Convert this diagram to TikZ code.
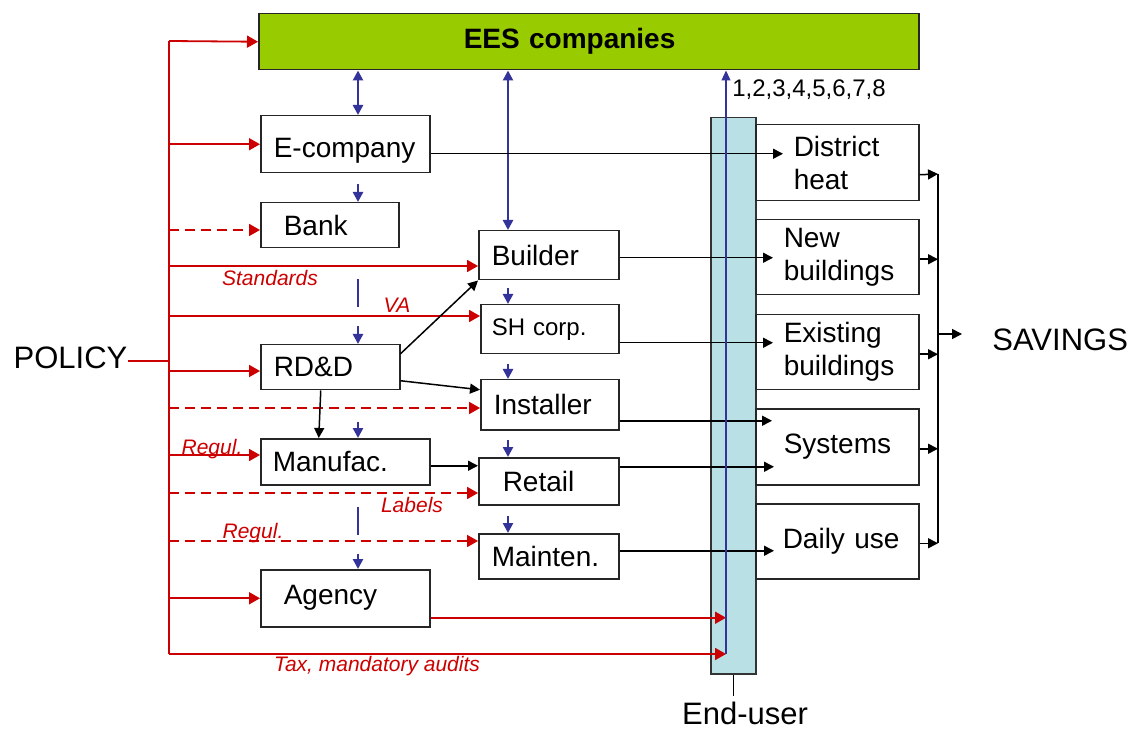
\documentclass[tikz,border=0pt]{standalone}
\usepackage{fontspec}
\setmainfont{Liberation Sans}
\usetikzlibrary{arrows.meta}
\definecolor{polred}{RGB}{204,0,0}
\definecolor{eesblue}{RGB}{51,51,153}
\definecolor{eesgreen}{RGB}{153,204,0}
\definecolor{barcyan}{RGB}{185,224,228}
\hyphenpenalty=10000
\exhyphenpenalty=10000
\tikzset{
  box/.style n args={4}{draw=black!85, fill=white, line width=0.75pt, anchor=north west, align=left,
    minimum width=#1, minimum height=#2, text width=#3, inner xsep=#4, inner ysep=0pt,
    font=\fontsize{14}{16.5}\selectfont},
  pol/.style={polred, line width=0.9pt, -{Triangle[length=5.5pt,width=6pt]}},
  poldash/.style={pol, dash pattern=on 5pt off 3pt},
  bl/.style={eesblue, line width=1.25pt, -{Triangle[length=5pt,width=5pt]}},
  blk/.style={black, line width=0.75pt, -{Triangle[length=5pt,width=5pt]}},
  lab/.style={polred, font=\fontsize{10.5}{12}\selectfont\itshape, inner sep=0pt},
  big/.style={font=\fontsize{15.5}{18}\selectfont, inner sep=0pt}
}
\begin{document}
\begin{tikzpicture}[x=0.5pt, y=-0.5pt]
\useasboundingbox (0,0) rectangle (1138,731);
\node[box={330pt}{28pt}{125pt}{102.5pt}, fill=eesgreen, font=\fontsize{14}{16.5}\selectfont\bfseries] (ees) at (258,13) {EES companies};
\node[box={84.5pt}{28.5pt}{71.5pt}{6.5pt}, text height=13.5pt, text depth=0pt] (ecomp) at (260,115) {E-company};
\node[box={69pt}{22.5pt}{46pt}{11.5pt}] (bank) at (260,202) {Bank};
\node[box={69.5pt}{22.5pt}{56.5pt}{6.5pt}] (rdd) at (260,344) {RD\&D};
\node[box={84.5pt}{23pt}{72.5pt}{6pt}] (manuf) at (260,438) {Manufac.};
\node[box={84.5pt}{28.5pt}{61.5pt}{11.5pt}] (agency) at (260,569) {Agency};
\node[box={70pt}{24.5pt}{57pt}{6.5pt}] (builder) at (478,230) {Builder};
\node[box={69pt}{24.5pt}{58pt}{5.5pt}, font=\fontsize{12}{14}\selectfont] (shcorp) at (480,304) {SH corp.};
\node[box={69pt}{25pt}{56pt}{6.5pt}] (inst) at (480,379) {Installer};
\node[box={70pt}{23.5pt}{46pt}{12pt}] (retail) at (478,457) {Retail};
\node[box={70pt}{22.5pt}{57pt}{6.5pt}] (mainten) at (478,533) {Mainten.};
\node[draw=black!80, fill=barcyan, line width=0.75pt, anchor=north west, minimum width=22.5pt, minimum height=278pt, inner sep=0pt] (enduser) at (710,117) {};
\node[box={81.5pt}{38pt}{43.5pt}{19pt}] (dh) at (755,124) {District\\heat};
\node[box={81.5pt}{37.5pt}{53.5pt}{14pt}] (newb) at (755,219) {New\\buildings};
\node[box={81.5pt}{37.5pt}{53.5pt}{14pt}] (exist) at (755,314) {Existing\\buildings};
\node[box={81.5pt}{38pt}{53.5pt}{14pt}] (sys) at (755,408) {Systems};
\node[box={81.5pt}{37.5pt}{54.5pt}{13.5pt}] (daily) at (755,503) {Daily~use};
\node[font=\fontsize{12}{14}\selectfont, inner sep=0pt] (nums) at (809,90) {1,2,3,4,5,6,7,8};
\node[big] (policy) at (70.5,357.5) {POLICY};
\node[big, anchor=west] (savings) at (992,340) {SAVINGS};
\node[big] (eulabel) at (745,713) {End-user};

\node[lab] (standards) at (270,278) {Standards};
\node[lab] (va) at (397,305) {VA};
\node[lab] (regul1) at (212,449) {Regul.};
\node[lab] (labels) at (412,505) {Labels};
\node[lab] (regul2) at (253,533) {Regul.};
\node[lab] (tax) at (377,666) {Tax, mandatory audits};

\coordinate (bustop) at (169,41);
\coordinate (busbot) at (169,654);
\coordinate (ret) at (726,654);
\draw[polred, line width=0.9pt] (bustop) -- (busbot);
\draw[polred, line width=0.9pt] ([yshift=-1.75pt]policy.east) coordinate (pe) -- (pe -| bustop);
\draw[pol] (bustop) -- (ees.west);
\draw[pol] (bustop |- ecomp.west) -- (ecomp.west);
\coordinate (p1) at (169,230);
\draw[poldash] (p1) -- (p1 -| bank.west);
\coordinate (p2) at (169,266);
\draw[pol] (p2) -- (p2 -| builder.west);
\coordinate (p3) at (169,316);
\draw[pol] (p3) -- (p3 -| shcorp.west);
\coordinate (p4) at (169,371);
\draw[pol] (p4) -- (p4 -| rdd.west);
\coordinate (p5) at (169,408);
\draw[poldash] (p5) -- (p5 -| inst.west);
\coordinate (p6) at (169,455);
\draw[pol] (p6) -- (p6 -| manuf.west);
\coordinate (p7) at (169,493);
\draw[poldash] (p7) -- (p7 -| retail.west);
\coordinate (p8) at (169,541);
\draw[poldash] (p8) -- (p8 -| mainten.west);
\draw[pol] (bustop |- agency.west) -- (agency.west);
\draw[pol] ([yshift=-9.75pt]agency.east) coordinate (a1) -- (a1 -| ret);
\draw[pol] (busbot) -- (ret);

\coordinate (b1) at (358,0);
\coordinate (b2) at (508,0);
\draw[bl, {Triangle[length=5pt,width=5pt]}-{Triangle[length=5pt,width=5pt]}] (b1 |- ees.south) -- (b1 |- ecomp.north);
\draw[bl, {Triangle[length=5pt,width=5pt]}-{Triangle[length=5pt,width=5pt]}] (b2 |- ees.south) -- (b2 |- builder.north);
\draw[bl, shorten <=5.5pt] (b1 |- ecomp.south) -- (b1 |- bank.north);
\draw[bl, dash pattern=on 14pt off 9.5pt, shorten <=15.5pt] (b1 |- bank.south) -- (b1 |- rdd.north);
\draw[bl, shorten <=15.5pt] (b1 |- rdd.south) -- (b1 |- manuf.north);
\draw[bl, dash pattern=on 14pt off 9.5pt, shorten <=10.5pt] (b1 |- manuf.south) -- (b1 |- agency.north);
\draw[bl, shorten <=4pt] (b2 |- builder.south) -- (b2 |- shcorp.north);
\draw[bl, shorten <=5pt] (b2 |- shcorp.south) -- (b2 |- inst.north);
\draw[bl, shorten <=4.5pt] (b2 |- inst.south) -- (b2 |- retail.north);
\draw[bl, shorten <=5pt] (b2 |- retail.south) -- (b2 |- mainten.north);

\draw[blk] ([yshift=-4.75pt]ecomp.east) coordinate (e1) -- ([xshift=14pt]e1 -| dh.west);
\draw[blk] ([yshift=6.75pt]rdd.east) -- (builder.south west);
\draw[blk] ([yshift=-6.75pt]rdd.east) -- ([yshift=7.5pt]inst.west);
\draw[blk] ([xshift=-4.75pt]rdd.south) -- ([xshift=-13.25pt]manuf.north);
\draw[blk] ([yshift=-2pt]manuf.east) coordinate (m1) -- (m1 -| retail.west);
\draw[blk] ([yshift=-1.25pt]builder.east) coordinate (e2) -- ([xshift=9pt]e2 -| newb.west);
\draw[blk] ([yshift=-6.75pt]shcorp.east) coordinate (e3) -- ([xshift=9pt]e3 -| exist.west);
\draw[blk] ([yshift=-8pt]inst.east) coordinate (e4) -- ([xshift=8.5pt]e4 -| sys.west);
\draw[blk] ([yshift=7.25pt]retail.east) coordinate (e5) -- ([xshift=9.5pt]e5 -| sys.west);
\draw[blk] ([yshift=2.75pt]mainten.east) coordinate (e6) -- ([xshift=9.5pt]e6 -| daily.west);

\draw[eesblue, line width=0.6pt, -{Triangle[length=5pt,width=4.5pt]}] (ret) -- (ret |- ees.south);

\coordinate (ctop) at (938,174);
\coordinate (cbot) at (938,543);
\draw[line width=0.75pt] (ctop) -- (cbot);
\draw[blk] ([yshift=-6pt]dh.east) -- (ctop);
\draw[blk] ([yshift=-1pt]newb.east) coordinate (r2) -- (r2 -| ctop);
\draw[blk] ([yshift=-1pt]exist.east) coordinate (r3) -- (r3 -| ctop);
\draw[blk] ([yshift=-1pt]sys.east) coordinate (r4) -- (r4 -| ctop);
\draw[blk] ([yshift=-1pt]daily.east) coordinate (r5) -- (r5 -| ctop);
\draw[blk] ([yshift=3pt]savings.west -| ctop) -- ([xshift=-15pt,yshift=3pt]savings.west);
\draw[line width=0.6pt] (enduser.south) -- ([yshift=2.5pt]enduser.south |- eulabel.north);
\end{tikzpicture}
\end{document}
